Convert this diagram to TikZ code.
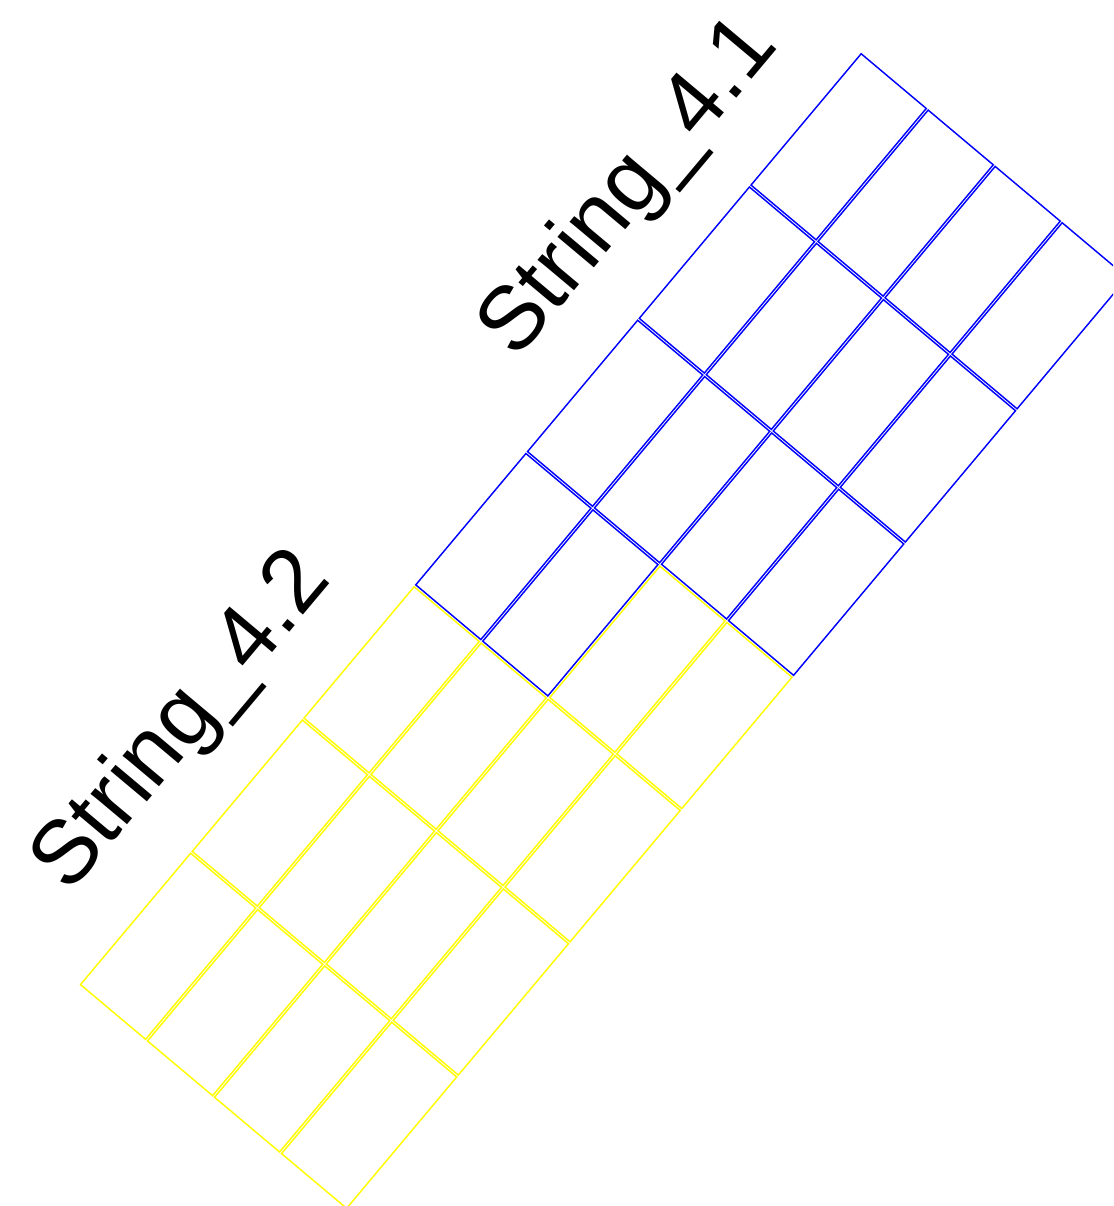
\documentclass[tikz,border=0pt]{standalone}
\usepackage{fontspec}
\setmainfont{Liberation Sans}
\newcommand\pvdi{0.0143}
\newcommand\pvdj{0.0072}
\newcommand\pvpanel[3]{\draw[#3] ({#1+\pvdi},{#2+\pvdj}) -- ({#1+1-\pvdi},{#2+\pvdj}) -- ({#1+1-\pvdi},{#2+1-\pvdj}) -- ({#1+\pvdi},{#2+1-\pvdj}) -- cycle;}
\begin{document}
\begin{tikzpicture}[x=1pt,y=-1pt,
  bluepanel/.style={draw={rgb,255:red,0;green,0;blue,255}, line width=1.45pt, line join=miter},
  yellowpanel/.style={draw={rgb,255:red,255;green,255;blue,0}, line width=1.45pt, line join=miter},
  label/.style={rotate=50, anchor=base west, inner sep=0pt, font=\fontsize{90}{100}\selectfont}]
\useasboundingbox (0,0) rectangle (1113,1206);
\fill[white] (0,0) rectangle (1113,1206);
\clip (0,0) rectangle (1113,1206);
\begin{scope}[shift={(861,52)}, x={(67pt,-56.33pt)}, y={(-111.75pt,-133.25pt)}]
  % yellow string 4.2
  \foreach \i/\j in {0/4,0/5,0/6,1/4,1/5,1/6,2/3,2/4,2/5,2/6,3/3,3/4,3/5,3/6}{\pvpanel{\i}{\j}{yellowpanel}}
  % blue string 4.1
  \foreach \i/\j in {0/0,0/1,0/2,0/3,1/0,1/1,1/2,1/3,2/0,2/1,2/2,3/0,3/1,3/2}{\pvpanel{\i}{\j}{bluepanel}}
\end{scope}
\node[label] (s41) at (516,361) {String\_4.1};
\node[label] (s42) at (69,895) {String\_4.2};
\end{tikzpicture}
\end{document}
